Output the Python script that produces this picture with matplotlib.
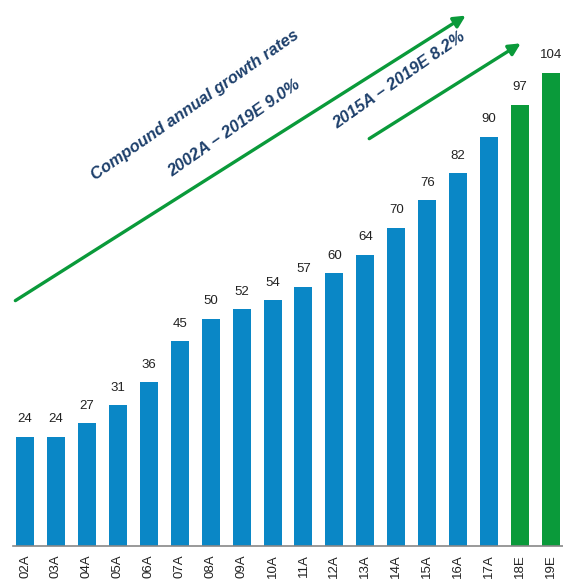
import matplotlib.pyplot as plt
import numpy as np

plt.rcParams['font.family'] = ['Liberation Sans', 'DejaVu Sans']

years = ["02A", "03A", "04A", "05A", "06A", "07A", "08A", "09A", "10A",
         "11A", "12A", "13A", "14A", "15A", "16A", "17A", "18E", "19E"]
values = [24, 24, 27, 31, 36, 45, 50, 52, 54, 57, 60, 64, 70, 76, 82, 90, 97, 104]

blue = "#0a87c6"
green = "#0a9a3a"
navy = "#1d3f6b"

colors = [green if y.endswith("E") else blue for y in years]

fig = plt.figure(figsize=(5.63, 5.79), dpi=100)
ax = fig.add_axes([13 / 563, 33 / 579, 550 / 563, 546 / 579])

x = np.arange(len(years))
ax.bar(x, values, width=0.58, color=colors)
for xi, v in zip(x, values):
    ax.text(xi, v + 2.5, str(v), ha="center", va="bottom", fontsize=9.5, color="#222222")

ax.set_xlim(-0.39, 17.39)
ax.set_ylim(0, 120)
ax.set_xticks(x)
ax.set_xticklabels(years, rotation=90, fontsize=9.5, color="#222222")
ax.tick_params(axis="x", length=0, pad=6)
ax.set_yticks([])
for s in ["top", "right", "left"]:
    ax.spines[s].set_visible(False)
ax.spines["bottom"].set_color("#888888")
ax.spines["bottom"].set_linewidth(1.2)

# growth arrows
arrow = dict(arrowstyle="-|>,head_length=0.7,head_width=0.35", color=green, lw=2.4)
ax.annotate("", xy=(14.32, 116.9), xytext=(-0.39, 53.6), arrowprops=arrow, annotation_clip=False)
ax.annotate("", xy=(16.10, 110.8), xytext=(11.05, 89.2), arrowprops=arrow, annotation_clip=False)

tkw = dict(color=navy, fontsize=12, fontweight="bold", fontstyle="italic",
           ha="center", va="center", rotation=35, rotation_mode="anchor")
ax.text(5.49, 96.9, "Compound annual growth rates", **tkw)
ax.text(6.75, 91.9, "2002A – 2019E 9.0%", **tkw)
ax.text(12.09, 102.4, "2015A – 2019E 8.2%", **tkw)

fig.savefig("out.png", dpi=100)
